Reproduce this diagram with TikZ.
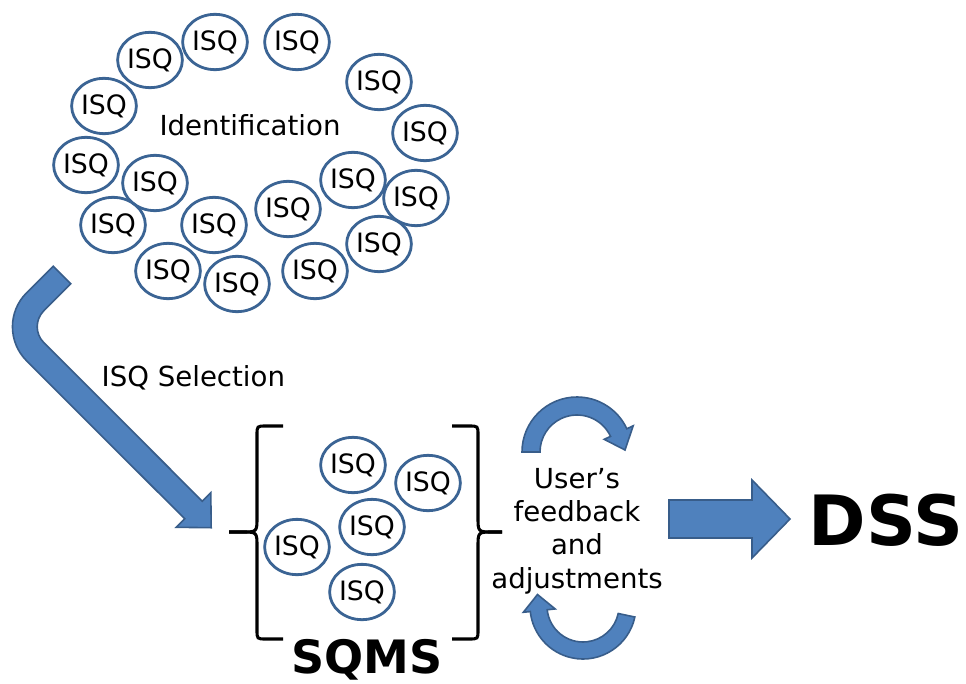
\documentclass[tikz,border=0pt]{standalone}
\usepackage{fontspec}
\setmainfont{DejaVu Sans}
\usetikzlibrary{shapes.geometric}
\definecolor{isqline}{HTML}{3B6494}
\definecolor{arrowfill}{HTML}{4F81BD}
\definecolor{arrowline}{HTML}{385D8A}
\begin{document}
\begin{tikzpicture}[x=0.75pt,y=-0.75pt,
  isq/.style={ellipse, draw=isqline, line width=2.1pt, minimum width=47pt,
    minimum height=41.5pt, inner sep=0pt, font=\fontsize{20}{23}\selectfont},
  blockarrow/.style={fill=arrowfill, draw=arrowline, line width=1.2pt, line join=miter},
  bracket/.style={draw=black, line width=2.3pt},
  txt/.style={font=\fontsize{20.7}{25}\selectfont}]
\useasboundingbox (0,0) rectangle (966,684);

% --- candidate indicators (identification cloud)
\foreach \n/\px/\py in {1/215/42, 2/297/42, 3/150/60, 4/379/82, 5/104/106,
    6/425/133, 7/86/165, 8/155/183, 9/353/180, 10/416/198, 11/113/225,
    12/214/225, 13/288/209, 14/379/244, 15/168/271, 16/237/284, 17/315/271}
  \node[isq] (i\n) at (\px,\py) {ISQ};
\node[txt, anchor=base] (ident) at (250,136) {Identification};

% --- selection arrow (bent block arrow)
\path[blockarrow] (53.2,266.2) -- (26.5,292.9) .. controls (7.8,311.6) and (7.8,342.0) .. (26.5,360.7)
  -- (184.7,518.8) -- (176.2,527.3) -- (211.2,527.7) -- (210.8,492.7) -- (202.3,501.2)
  -- (43.8,342.6) .. controls (35.0,333.9) and (35.0,319.6) .. (43.8,310.8) -- (70.8,283.8) -- cycle;
\node[txt, anchor=base west] (selection) at (97,386) {ISQ Selection};

% --- selected indicators between braces
\foreach \n/\px/\py in {1/353/465, 2/428/483, 3/372/527, 4/297/547, 5/362/592}
  \node[isq] (s\n) at (\px,\py) {ISQ};
\draw[bracket] (283,426) -- (266,426) .. controls (257,426) .. (257,435) -- (257,517)
  .. controls (257,532) .. (242,532) -- (229,532);
\draw[bracket] (229,532) -- (242,532) .. controls (257,532) .. (257,547) -- (257,630)
  .. controls (257,639) .. (266,639) -- (283,639);
\draw[bracket] (452,426) -- (469,426) .. controls (478,426) .. (478,435) -- (478,517)
  .. controls (478,532) .. (493,532) -- (502,532);
\draw[bracket] (502,532) -- (493,532) .. controls (478,532) .. (478,547) -- (478,630)
  .. controls (478,639) .. (469,639) -- (452,639);
\node[anchor=base, font=\bfseries\fontsize{34.5}{40}\selectfont] (sqms) at (367,673) {SQMS};

% --- feedback loop
\coordinate (ctop) at (577,452);
\coordinate (cbot) at (583,606);
\path[blockarrow] ([shift={(180:55)}]ctop) arc[start angle=180, end angle=335, radius=55]
  -- ([shift={(335:62)}]ctop) -- (625,450) -- ([shift={(335:30)}]ctop)
  -- ([shift={(335:37)}]ctop) arc[start angle=335, end angle=180, radius=37] -- cycle;
\path[blockarrow] ([shift={(12:53)}]cbot) arc[start angle=12, end angle=174, radius=53]
  -- ([shift={(174:60)}]cbot) -- (537.5,594.5) -- ([shift={(174:28)}]cbot)
  -- ([shift={(174:36)}]cbot) arc[start angle=174, end angle=12, radius=36] -- cycle;
\node[txt, align=center] (feedback) at (577,531) {User’s\\feedback\\and\\adjustments};

% --- output
\path[blockarrow] (669,500) -- (752,500) -- (752,480) -- (790,519) -- (752,558)
  -- (752,538) -- (669,538) -- cycle;
\node[anchor=base, font=\bfseries\fontsize{52}{58}\selectfont] (dss) at (886,545) {DSS};
\end{tikzpicture}
\end{document}
